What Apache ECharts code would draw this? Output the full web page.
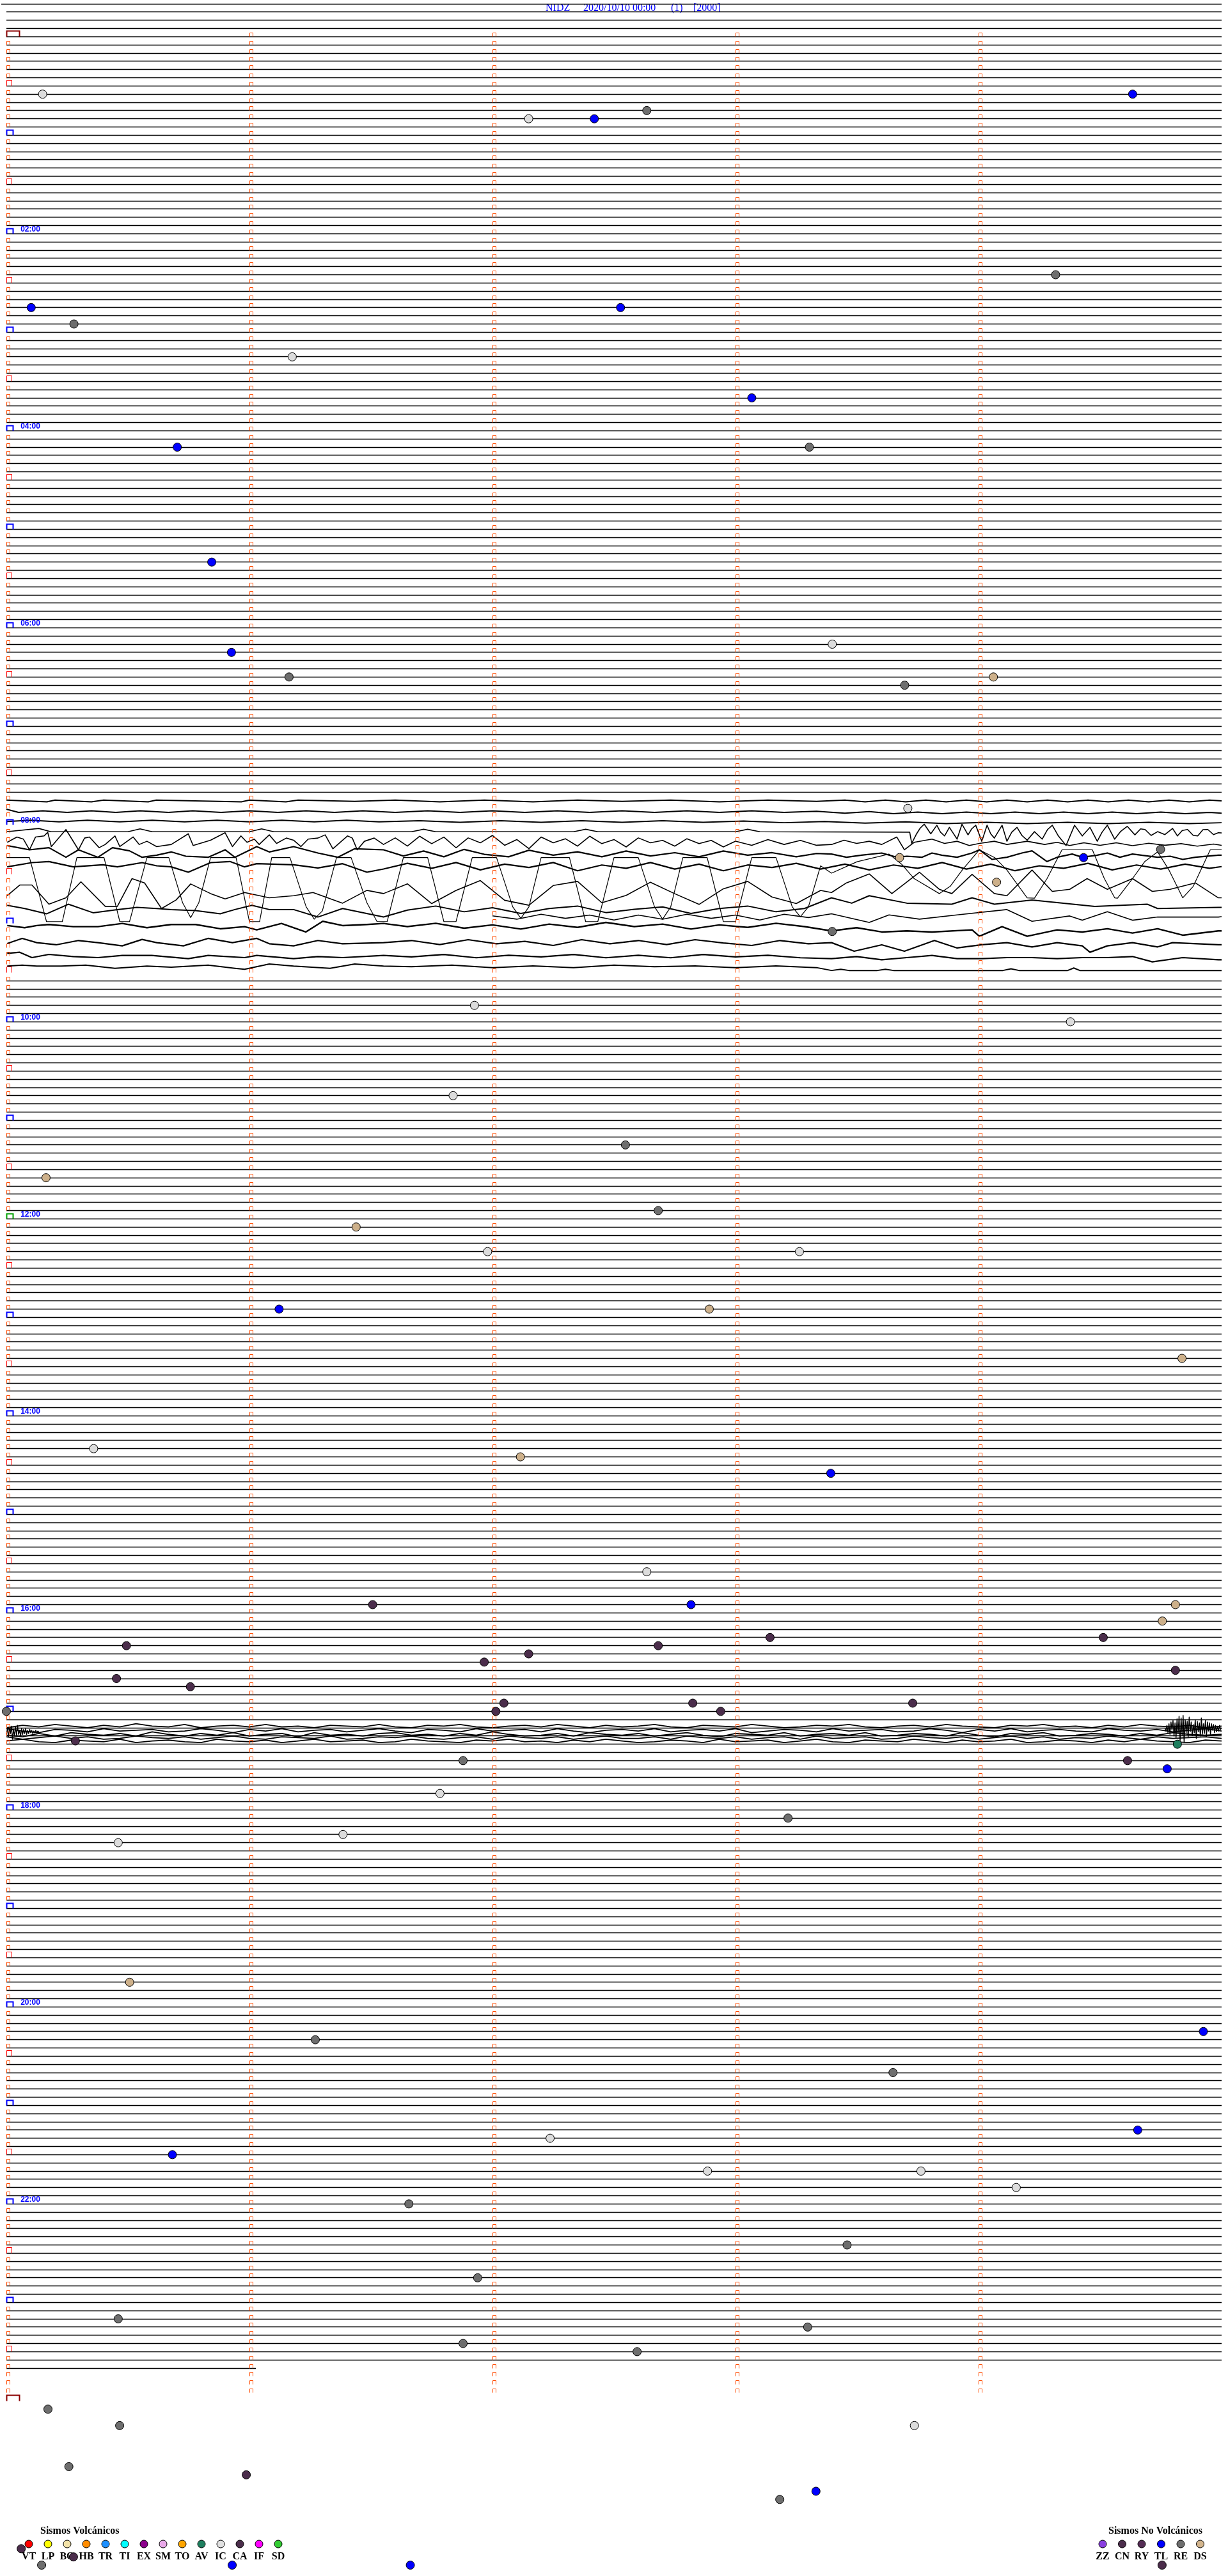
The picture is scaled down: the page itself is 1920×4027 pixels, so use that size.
<!DOCTYPE html>
<html><head><meta charset="utf-8">
<script src="https://cdn.jsdelivr.net/npm/echarts/dist/echarts.min.js"></script>
<style>html,body{margin:0;padding:0;background:#fff}#c{width:1920px;height:4027px}</style>
</head><body><div id="c"></div>
<script>
// ================= DATA =================
const titleParts = ['NIDZ', '2020/10/10 00:00', '(1)', '[2000]'];
const hourLabels = ['02:00','04:00','06:00','08:00','10:00','12:00','14:00','16:00','18:00','20:00','22:00'];
const hourLabelRows = [24,48,72,96,120,144,168,192,216,240,264];
const noonRow = 144;          // noon marker drawn in green
const lastRow = 284;          // last (partial) trace row
const lastRowEnd = 61.5;      // seconds reached on last row
const markerRows = 288;       // rows carrying minute markers (0..287)
const waveRows = [93,114];    // rows replaced by recorded waveforms
const markerSeconds = [0,60,120,180,240];

// events [minute within the 5-minute row, row index]
const evIC = [[0.149,7],[2.149,10],[1.176,39],[3.398,74],[3.709,94],[1.926,118],[4.378,120],[1.838,129],[1.98,148],[3.263,148],[0.359,172],[2.635,187],[1.784,214],[1.385,219],[0.460,220],[2.237,256],[2.885,260],[3.763,260],[4.155,262],[3.736,291]];
const evTL = [[2.419,10],[4.634,7],[0.102,33],[2.527,33],[3.067,44],[0.703,50],[0.845,64],[0.926,75],[4.432,100],[1.122,155],[3.392,175],[2.817,191],[4.776,211],[4.925,243],[4.655,255],[0.683,258],[3.331,299],[0.929,308],[1.662,308]];
const evRE = [[2.635,9],[4.317,29],[0.278,35],[3.304,50],[1.163,78],[3.696,79],[4.749,99],[3.398,109],[2.547,135],[2.682,143],[0.0,204],[1.879,210],[3.216,217],[1.271,244],[3.648,248],[1.656,264],[3.459,269],[1.939,273],[0.460,278],[3.297,279],[1.879,281],[2.595,282],[0.171,289],[0.466,291],[0.257,296],[3.182,300],[0.145,308]];
const evDS = [[4.061,78],[3.675,100],[4.074,103],[0.163,139],[1.439,145],[2.892,155],[4.837,161],[2.115,173],[4.81,191],[4.756,193],[0.507,237]];
const evCN = [[1.507,191],[0.494,196],[3.142,195],[4.513,195],[2.682,196],[2.149,197],[1.966,198],[0.453,200],[4.81,199],[0.757,201],[2.047,203],[2.824,203],[2.939,204],[3.729,203],[2.014,204],[0.284,207.6],[4.613,210],[0.987,297],[0.061,306],[0.276,307],[4.755,308]];
const evAV = [[4.818,208]];

// recorded waveforms 07:45-09:50 : [second, row position]
const traceA = [[0,93.0],[10,93.2],[12,93.0],[21,93.2],[24,93.0],[35,93.2],[37,93.0],[58,93.2],[60,93.0],[69,93.2],[72,93.0],[86,93.15],[96,93.0],[107,93.2],[118,93.0],[130,93.2],[141,93.0],[152,93.15],[164,93.0],[176,93.2],[188,93.0],[200,93.15],[207,93.0],[212,93.2],[217,93.0],[222,93.2],[227,93.0],[232,93.2],[237,93.0],[242,93.2],[247,93.0],[252,93.2],[257,93.0],[262,93.2],[267,93.0],[272,93.2],[277,93.0],[282,93.2],[287,93.0],[292,93.2],[297,93.0],[300,93.1]];
const traceB = [[0,94.1],[3,94.5],[9,94.3],[15,94.5],[21,94.3],[27,94.5],[33,94.3],[40,94.5],[46,94.3],[53,94.5],[60,94.3],[67,94.5],[74,94.3],[81,94.5],[88,94.3],[96,94.5],[104,94.3],[112,94.5],[120,94.3],[128,94.5],[136,94.3],[144,94.5],[152,94.3],[160,94.5],[168,94.3],[176,94.5],[184,94.3],[192,94.5],[200,94.35],[207,94.6],[213,94.4],[219,94.65],[225,94.45],[231,94.65],[237,94.45],[243,94.65],[249,94.45],[255,94.65],[261,94.45],[267,94.65],[273,94.45],[279,94.65],[285,94.45],[291,94.65],[297,94.5],[300,94.6]];
const traceC = [[0,95.6],[6,95.45],[13,95.65],[20,95.45],[28,95.65],[36,95.45],[44,95.65],[52,95.45],[60,95.65],[68,95.45],[76,95.65],[84,95.45],[92,95.65],[102,95.5],[112,95.7],[122,95.5],[132,95.7],[142,95.5],[152,95.7],[162,95.5],[172,95.7],[182,95.55],[192,95.75],[202,95.6],[212,95.8],[222,95.65],[232,95.85],[242,95.7],[252,95.85],[262,95.7],[272,95.85],[282,95.7],[292,95.85],[300,95.75]];
const traceD = [[0,96.85],[8,96.45],[11,96.85],[30,96.85],[33,96.5],[36,96.85],[60,96.85],[63,96.5],[66,96.85],[100,96.85],[103,96.55],[106,96.85],[140,96.85],[143,96.55],[146,96.85],[180,96.85],[183,96.55],[186,96.85],[223,96.9],[223.5,98.27],[224.7,97.1],[225.6,96.4],[226.6,95.93],[228.2,97.1],[229.7,96.06],[230.6,96.9],[231.6,97.36],[232.8,96.32],[233.7,97.0],[234.7,97.75],[235.9,95.93],[237.4,97.23],[238.3,96.5],[239.3,96.06],[240.8,98.01],[242.1,96.06],[243.0,97.1],[243.9,97.62],[245.8,96.06],[247.0,98.01],[248.2,96.9],[249.5,96.32],[250.7,97.3],[252.0,97.88],[253.8,96.84],[255.7,97.75],[257,96.6],[258.2,96.06],[259.7,97.36],[261.6,98.53],[263.7,96.06],[265.6,97.36],[267.5,96.32],[269.3,98.01],[270.5,96.9],[271.8,96.06],[273.6,97.75],[275.1,96.8],[276.7,96.19],[278.6,97.23],[280,96.5],[281.1,96.58],[282.6,97.3],[284.2,96.84],[286,97.2],[287.9,96.45],[289.1,97.36],[290.3,96.7],[291.6,96.58],[293,97.3],[294.1,97.36],[295.4,96.6],[296.6,96.58],[298,97.2],[299.2,96.97],[300,97.0]];
const traceE = [[0.2,98.14],[2.6,97.49],[4.2,97.75],[5.7,99.05],[7.2,97.49],[9.3,97.36],[10.2,96.92],[11.1,98.66],[14.7,96.58],[17.8,99.05],[19.3,97.62],[20.5,97.49],[22.9,98.79],[24.4,98.4],[26.8,97.36],[28.0,98.66],[31.3,97.49],[32.8,98.4],[34.7,98.01],[37.1,98.66],[40.7,98.4],[44.9,97.1],[46.1,98.53],[50.4,97.88],[54.0,96.97],[55.8,98.66],[57.9,97.36],[59.4,98.14],[61.2,97.75],[62.4,98.4],[64.9,97.23],[66.7,98.27],[69.1,97.62],[70.9,97.88],[72.7,98.66],[74.5,97.75],[76.9,97.62],[78.7,97.23],[80.6,98.92],[84.2,97.36],[85.4,97.62],[86.6,99.05],[88.4,98.01],[90.8,97.62],[93.1,98.4],[96,97.6],[99,98.6],[102,97.4],[105,98.3],[108,97.5],[111,98.8],[114,97.6],[117,98.2],[120,97.3],[123,98.5],[126,97.8],[129,98.9],[132,97.5],[135,98.2],[138,97.7],[141,98.6],[144,97.4],[147,98.3],[150,97.8],[153,98.7],[156,97.6],[159,98.2],[162,97.9],[165,98.6],[168,97.7],[171,98.3],[174,97.9],[177,98.7],[180,98.0],[184,98.5],[188,97.8],[192,98.4],[196,97.9],[200,98.5],[203.7,98.4],[206.8,97.88],[209.9,98.27],[213,98.01],[216.1,98.4],[219.8,97.49],[221.7,99.05],[224.1,98.14],[228.5,97.75],[231.6,98.27],[234.7,98.01],[237.7,98.53],[240.2,98.27],[243.9,98.01],[247,98.4],[252,98.01],[256.3,98.4],[259.4,98.14],[262.5,98.53],[266,98.2],[270,98.5],[274,98.2],[278,98.55],[282,98.25],[286,98.5],[290,98.3],[294,98.6],[298,98.35],[300,98.5]];
const traceF = [[0.2,98.53],[5.7,99.05],[10.5,98.79],[14.7,99.96],[17.8,99.05],[22.6,99.96],[26.2,98.79],[30.4,99.18],[33.5,99.96],[37.1,99.7],[40.7,99.31],[44.3,99.83],[49.8,99.96],[54,99.05],[56.4,99.96],[61.8,98.66],[64.9,99.31],[70.9,98.66],[76.9,99.44],[81.8,99.96],[86,98.92],[93.1,99.05],[98,99.8],[103,99.2],[108,99.9],[113,99.0],[118,99.6],[124,99.9],[129,99.1],[135,99.7],[141,99.3],[147,99.9],[153,99.2],[159,99.8],[165,99.4],[171,99.9],[177,99.2],[183,99.7],[189,99.4],[195,99.9],[200,99.5],[203.7,99.57],[207.4,99.96],[211.1,99.7],[216.1,99.44],[219.8,99.96],[222.3,99.83],[226,99.96],[228.5,99.44],[230.9,99.7],[234.7,99.96],[238.4,99.44],[240.2,99.05],[243.3,100.22],[247,99.96],[250.7,99.44],[253.2,99.18],[256.9,100.48],[259.4,99.96],[263.1,99.57],[265.6,99.96],[269.3,99.7],[271.8,99.44],[274.9,99.96],[278,99.57],[284.2,99.96],[287.3,99.83],[290.4,100.22],[293.5,99.96],[299.2,99.7],[300,99.7]];
const traceG = [[0,100.0],[5.7,100.0],[9.9,107.8],[13.8,107.8],[17.4,100.0],[24.1,100.0],[28.0,107.8],[30.4,107.8],[34.7,100.0],[40.1,100.0],[43.5,105.5],[45.5,107.3],[47.5,105.5],[50.4,100.0],[56.7,100.0],[60,107.8],[62.5,107.8],[65.5,100.0],[70.0,100.0],[74,106],[76,107.5],[78,106.5],[81.5,100.0],[85.1,100.0],[89,105.5],[91.5,107.8],[94,107.8],[98,100.0],[104,100.0],[108,107.8],[111,107.8],[115,100.0],[121,100.0],[125,106],[127,107.4],[129,106],[132,100.0],[139,100.0],[143,107.8],[146,107.8],[150,100.0],[156,100.0],[160,106],[162,107.5],[164,106],[167,100.0],[173,100.0],[177,107.8],[180,107.8],[184,100.0],[190,100.0],[194,106],[196,107.2],[198,106],[201,101],[203.7,101.9],[210,100.5],[217.9,99.57],[221,100.8],[224.1,102.56],[230.3,104.38],[233,103.5],[236,101.5],[240.2,99.05],[244,100],[247,101.52],[252,104.9],[253.8,104.95],[256.9,102.56],[260.6,99.05],[268.1,99.05],[271,102.5],[273.6,104.9],[274.3,104.95],[278,102.56],[281,100.5],[284.2,99.3],[287,101.5],[290.4,104.9],[293,103.5],[297.2,99.05],[300,99.05]];
const traceH = [[0.2,101.13],[6.3,100.61],[10.5,100.48],[16.5,101.13],[23.8,100.87],[27.4,101.13],[33.5,100.61],[37.1,101.0],[40.7,101.13],[44.9,101.78],[50.4,100.61],[55.2,100.48],[58.8,101.13],[61.8,100.74],[70.9,100.87],[76.9,101.26],[83,100.74],[89,101.78],[93.1,101.39],[99,100.7],[105,101.3],[111,100.6],[117,101.5],[123,100.8],[129,101.2],[135,100.6],[141,101.6],[147,100.9],[153,101.3],[159,100.6],[165,101.4],[171,100.8],[177,101.6],[183,100.9],[189,101.2],[195,100.7],[201,101.4],[207,100.8],[213,101.5],[219,100.9],[225,101.3],[231,100.6],[237,101.4],[243,100.8],[249,101.6],[255,101.0],[261,101.3],[267,100.7],[273,101.5],[279,100.9],[285,101.4],[291,100.8],[297,101.3],[300,101.1]];
const traceI = [[0.2,104.64],[3.3,103.34],[6.3,103.34],[10.5,105.68],[14.7,104.9],[18.4,102.95],[24.4,105.94],[27.4,105.94],[31,102.56],[34.1,103.08],[38.3,106.2],[41.9,105.16],[45.5,103.21],[50.4,104.38],[54,105.03],[58.8,104.25],[64.9,104.9],[70.9,104.64],[75.7,104.25],[83,105.55],[89,103.99],[93.1,104.38],[99,103.2],[105,105.6],[111,104.0],[117,102.8],[123,105.2],[129,105.8],[135,103.4],[141,102.9],[147,105.5],[153,104.6],[159,103.0],[165,104.4],[171,105.7],[177,103.8],[183,102.9],[189,104.8],[195,105.6],[201,104.0],[203.7,104.25],[207.4,103.08],[213,101.99],[218.6,104.38],[225.4,101.78],[230.3,103.86],[233.4,104.38],[238.4,102.04],[243.9,104.38],[247,104.64],[253.2,101.52],[258.2,104.12],[262.5,103.86],[266.8,102.56],[271.8,103.86],[278,102.56],[282.9,104.12],[287.3,103.86],[293.5,103.08],[299.2,104.9],[300,104.9]];
const traceJ = [[0.2,105.81],[4.5,106.2],[9.9,106.85],[15.3,105.68],[21.4,106.72],[27.4,106.33],[32.2,106.07],[37.1,106.2],[40.7,106.33],[46.7,106.46],[52.8,106.85],[56.4,106.33],[60.6,105.81],[64.9,106.33],[70.9,106.33],[76.9,107.24],[83,106.2],[93.1,107.24],[99,106.4],[106,105.9],[113,106.6],[120,106.1],[127,106.8],[134,106.2],[141,105.9],[148,106.7],[155,106.3],[162,106.0],[169,106.8],[176,106.2],[183,105.9],[190,106.6],[197,106.2],[203.7,104.9],[208.7,105.55],[213,104.64],[222.3,105.55],[233.4,105.68],[238.4,104.9],[243.9,105.68],[253.2,105.16],[268.7,105.94],[281.7,105.68],[284.2,106.2],[299.2,106.07],[300,106.07]];
const traceJ2 = [[120,107.1],[126,107.5],[132,106.9],[138,107.4],[144,107.0],[150,107.6],[156,107.0],[162,107.5],[168,106.9],[174,107.4],[180,107.0],[186,107.6],[192,106.9],[198,107.3],[203.7,106.85],[213,107.89],[217.9,106.98],[225.4,107.5],[234.7,106.98],[247,106.33],[253.2,107.76],[262.5,107.11],[265.6,107.63],[271.8,106.59],[278,107.63],[284.2,107.24],[299.2,107.24],[300,107.2]];
const traceK = [[0.2,108.28],[4.5,108.54],[7.5,108.28],[10.5,108.15],[16.5,108.41],[22.6,108.41],[28.6,108.02],[34.7,108.54],[40.7,108.15],[46.7,108.15],[52.8,108.67],[58.8,108.41],[61.8,108.8],[67.9,108.02],[73.9,109.06],[78.1,107.76],[83,108.28],[89,108.15],[93.1,108.02],[99,108.4],[106,108.0],[113,108.6],[120,108.2],[127,108.7],[134,108.1],[141,108.5],[148,107.9],[155,108.4],[162,108.1],[169,108.7],[176,108.2],[183,108.5],[190,108.0],[197,108.4],[203.7,108.93],[209.9,108.54],[216.1,109.06],[222.3,108.93],[228.5,109.06],[238.4,108.8],[240.2,109.58],[245.8,108.41],[252,109.58],[259.4,108.8],[265.6,109.06],[271.8,108.67],[278,109.19],[284.2,108.67],[290.4,109.45],[299.2,108.93],[300,108.93]];
const traceL = [[0.2,110.47],[3.9,109.84],[7.5,110.36],[12.3,110.62],[17.8,110.1],[22.6,110.36],[28.6,110.75],[33.5,109.97],[37.1,110.36],[43.7,110.75],[49.8,109.84],[55.8,110.36],[61.8,109.84],[64.9,110.49],[70.9,110.75],[76.9,110.1],[83,110.49],[93.1,110.36],[100,110.1],[107,110.6],[114,110.0],[121,110.5],[128,110.2],[135,110.7],[142,110.0],[149,110.5],[156,110.1],[163,110.6],[170,110.0],[177,110.4],[184,110.7],[191,110.1],[198,110.5],[203.7,110.36],[209.3,111.4],[216.1,110.62],[221.7,111.4],[229.1,110.1],[234.7,111.01],[240.8,110.62],[247,110.36],[253.2,110.88],[259.4,110.36],[265.6,110.75],[267.5,111.53],[271.8,110.75],[278,110.36],[284.2,110.88],[287.9,110.36],[299.2,110.62],[300,110.62]];
const traceM = [[0.2,111.66],[3.3,111.53],[6.3,112.18],[10.5,111.79],[16.5,112.05],[22.6,112.18],[28.6,111.92],[35.9,111.92],[44.9,112.31],[49.8,111.92],[58.8,112.18],[61.8,111.92],[70.9,112.31],[76.9,112.05],[83,112.18],[93.1,111.92],[100,112.1],[108,111.8],[116,112.2],[124,111.9],[132,112.1],[140,111.8],[148,112.2],[156,111.9],[164,112.2],[172,111.8],[180,112.1],[188,111.9],[196,112.2],[203.7,112.31],[209.9,112.05],[216.1,112.44],[222.3,112.18],[228.5,111.92],[234.7,112.31],[240.8,112.31],[247,112.18],[253.2,112.18],[259.4,112.31],[265.6,112.18],[271.8,112.18],[278,112.05],[282.9,112.7],[290.4,112.18],[299.2,112.44],[300,112.44]];
const traceN = [[0.2,113.22],[3.9,113.09],[7.5,113.22],[13.5,113.22],[19.6,113.09],[26.8,113.48],[34.7,113.22],[40.7,113.35],[49.8,113.09],[56.4,113.48],[58.8,113.61],[64.9,112.96],[70.9,113.22],[79.9,113.48],[86,112.96],[93.1,113.22],[100,113.3],[110,113.1],[120,113.4],[130,113.2],[140,113.4],[150,113.1],[160,113.3],[170,113.2],[180,113.4],[190,113.2],[200,113.4],[203.7,113.75],[206,113.6],[208,113.75],[215,113.75],[217,113.6],[219,113.75],[246,113.75],[248,113.55],[250,113.75],[262,113.75],[263.5,113.45],[265,113.75],[300,113.75]];

// 17:10 burst : amplitudes (tenths of a row) every burstStep seconds
const burstStep = 4;
const burstBase = [205.8, 206.3, 206.8, 207.2, 207.6];
const burst1 = [2,-1,1,-2,0,2,-1,1,-3,0,1,-2,2,0,-1,1,-2,1,0,2,-1,0,1,-2,1,2,-1,0,-2,1,2,0,-1,1,-2,0,2,-1,1,0,-2,1,2,-1,0,1,-2,0,2,1,-1,0,-2,1,2,0,-1,1,-2,0,1,2,-1,0,-2,1,0,2,-1,1,-2,0,1,-1,2,0];
const burst2 = [-2,1,3,-1,0,2,-2,1,0,-1,2,1,-2,0,3,-1,1,-2,2,0,-1,2,0,-2,1,3,-1,0,2,-2,1,0,-1,2,-2,1,3,0,-1,1,-2,2,0,-1,1,-2,3,1,-1,0,2,-2,1,0,-1,2,1,-2,0,3,-1,1,-2,2,0,-1,1,2,-2,0,1,-1,2,0,-2,1];
const burst3 = [1,3,-1,2,-2,0,1,-1,2,-3,0,2,-1,1,-2,2,0,-1,3,-2,1,0,2,-1,-2,1,0,2,-1,1,-3,0,2,1,-1,2,-2,0,1,-1,2,0,-2,1,3,-1,0,1,-2,2,0,-1,1,-2,2,1,-1,0,2,-2,1,3,-1,0,-2,2,1,-1,0,2,-1,1,-2,0,1,0];
const burst4 = [-1,2,0,-2,1,-1,2,1,-2,0,1,-1,2,0,-2,1,2,-1,0,1,-2,2,1,-1,0,-2,1,2,0,-1,2,-2,0,1,-1,2,0,-2,1,1,-1,2,-2,0,1,-1,2,0,-1,2,-2,1,0,-1,2,1,-2,0,1,-1,2,0,-2,1,-1,2,0,1,-2,0,2,-1,1,0,-1,1];
const burst5 = [0,-2,1,2,-1,0,1,-2,2,0,-1,1,2,-2,0,1,-1,2,0,-2,1,0,-1,2,1,-2,0,1,2,-1,0,-2,1,0,2,-1,1,-2,0,2,1,-1,0,2,-2,1,0,-1,2,0,-2,1,2,-1,0,1,-2,0,2,-1,1,0,-2,2,1,-1,0,2,-1,1,-2,0,1,2,-1,0];
const blobStep = 0.25;
const blobLeft = {row: 206.5, start: 0, amp: [3,-4,6,-5,2,-7,9,-3,5,-6,4,-8,3,-2,5,-4,3,-3,2,-4,3,-2,2,-3,1,-2,2,-1,1,-2,1,-1,0]};
const blobRight = {row: 206.0, start: 286, amp: [0,4,-3,6,-5,8,-7,3,-9,10,-6,12,-11,7,-14,16,-12,9,-15,18,-10,6,-8,11,-13,5,-7,9,-4,6,-10,13,-8,5,-6,10,-12,8,-5,7,-9,11,-7,4,-6,8,-5,3,-4,6,-3,5,-2,4,-3,2,0]};

const volcCodes = ['VT','LP','BQ','HB','TR','TI','EX','SM','TO','AV','IC','CA','IF','SD'];
const volcColors = ['#FF0000','#FFFF00','#F2E2A8','#FF8C00','#1E90FF','#00FFFF','#8B008B','#E8A8E8','#FFA500','#1F7F5F','#E0E0E0','#4B2D4B','#FF00FF','#33CC33'];
const nvCodes = ['ZZ','CN','RY','TL','RE','DS'];
const nvColors = ['#8A3FE0','#4B2D4B','#552D55','#0000FF','#6E6E6E','#D2B48C'];

// ================= BUILD =================
const flatLines = [];
for (let r = -4; r <= lastRow; r++) {
  if (r >= waveRows[0] && r <= waveRows[1]) continue;
  flatLines.push([r === -4 ? -1.3 : 0, r === lastRow ? lastRowEnd : 300, r]);
}
const waveTraces = [
  {pts: traceA, w: 2}, {pts: traceB, w: 2}, {pts: traceC, w: 2}, {pts: traceD, w: 1.6},
  {pts: traceE, w: 1.6}, {pts: traceF, w: 2.2}, {pts: traceG, w: 1.2}, {pts: traceH, w: 2.2},
  {pts: traceI, w: 1.6}, {pts: traceJ, w: 2}, {pts: traceJ2, w: 1.6}, {pts: traceK, w: 2.4},
  {pts: traceL, w: 2.2}, {pts: traceM, w: 2.2}, {pts: traceN, w: 2}
];
[burst1, burst2, burst3, burst4, burst5].forEach((a, k) => {
  waveTraces.push({pts: a.map((v, i) => [i * burstStep, burstBase[k] + v / 10]), w: 1.8});
});
[blobLeft, blobRight].forEach(b => {
  waveTraces.push({pts: b.amp.map((v, i) => [b.start + i * blobStep, b.row + v / 10]), w: 1.4});
});

const markers = [];
for (let r = 0; r < markerRows; r++) {
  markerSeconds.forEach((s, c) => {
    let k = 0;
    if (c === 0) {
      if (r === 0) k = 3; else if (r === noonRow) k = 4; else if (r % 12 === 0) k = 2; else if (r % 12 === 6) k = 1;
    }
    markers.push([s, r, k]);
  });
}
markers.push([0, markerRows, 3]);
const hourData = hourLabelRows.map(r => [3.5, r]);
const toSec = arr => arr.map(e => [e[0] * 60, e[1]]);

function renderFlat(params, api) {
  const a = api.coord([api.value(0), api.value(2)]);
  const b = api.coord([api.value(1), api.value(2)]);
  const y = Math.floor(a[1]) + 0.5;
  return {type: 'line', silent: true, shape: {x1: Math.round(a[0]), y1: y, x2: Math.round(b[0]), y2: y},
    style: {stroke: '#000', lineWidth: 1.5}};
}
function renderWave(params, api) {
  const t = waveTraces[params.dataIndex];
  return {type: 'polyline', silent: true, shape: {points: t.pts.map(p => api.coord(p))},
    style: {stroke: '#000', lineWidth: t.w, fill: null, lineJoin: 'round'}};
}
function renderMarker(params, api) {
  const p = api.coord([api.value(0), api.value(1)]);
  const k = api.value(2);
  const x = Math.round(p[0]) + 0.5, y = Math.floor(p[1]) + 0.5;
  let w = 5, h = 6, col = '#FF4A00', lw = 1;
  if (k === 1) { w = 8; h = 9; col = '#FF0000'; }
  if (k === 2) { w = 10; h = 8; col = '#0000FF'; lw = 2; }
  if (k === 4) { w = 10; h = 8; col = '#00A000'; lw = 2; }
  if (k === 3) { w = 20; h = 9; col = '#8B0000'; lw = 2; }
  return {type: 'polyline', silent: true,
    shape: {points: [[x, y], [x, y - h], [x + w, y - h], [x + w, y]]},
    style: {stroke: col, lineWidth: lw, fill: null}};
}
function renderHour(params, api) {
  const p = api.coord([api.value(0), api.value(1)]);
  return {type: 'text', silent: true,
    style: {text: hourLabels[params.dataIndex], x: p[0], y: Math.floor(p[1]) - 0.5, fill: '#0000FF',
      font: 'bold 12px "Liberation Sans", Arial, sans-serif', align: 'left', verticalAlign: 'bottom'}};
}
function evSeries(data, color) {
  return {type: 'scatter', data: toSec(data), symbol: 'circle', symbolSize: 13, clip: false,
    itemStyle: {color: color, borderColor: '#000', borderWidth: 1, opacity: 1}, z: 5, silent: true};
}

const graphics = [];
const serif = '"Liberation Serif", "Times New Roman", serif';
const titleX = [853, 912, 1049, 1084];
titleParts.forEach((t, i) => graphics.push({type: 'text', left: titleX[i], top: 5,
  style: {text: t, fill: '#0000FF', font: '16px ' + serif}}));
graphics.push({type: 'text', left: 63, top: 3949, style: {text: 'Sismos Volcánicos', fill: '#000', font: 'bold 16px ' + serif}});
graphics.push({type: 'text', left: 1733, top: 3949, style: {text: 'Sismos No Volcánicos', fill: '#000', font: 'bold 16px ' + serif}});
volcCodes.forEach((c, i) => {
  const cx = 45 + 30 * i;
  graphics.push({type: 'circle', shape: {cx: cx, cy: 3977, r: 6}, style: {fill: volcColors[i], stroke: '#000', lineWidth: 1}});
  graphics.push({type: 'text', x: cx, y: 3997, style: {text: c, fill: '#000', font: 'bold 16px ' + serif, align: 'center', verticalAlign: 'middle'}});
});
nvCodes.forEach((c, i) => {
  const cx = 1724 + 30.5 * i;
  graphics.push({type: 'circle', shape: {cx: cx, cy: 3977, r: 6}, style: {fill: nvColors[i], stroke: '#000', lineWidth: 1}});
  graphics.push({type: 'text', x: cx, y: 3997, style: {text: c, fill: '#000', font: 'bold 16px ' + serif, align: 'center', verticalAlign: 'middle'}});
});

const chart = echarts.init(document.getElementById('c'), null, {renderer: 'canvas'});
chart.setOption({
  animation: false,
  backgroundColor: '#fff',
  grid: {left: 10 - 1900 / 300, top: 6, width: 1900 * 301 / 300, height: 313 * 154 / 12, containLabel: false},
  xAxis: {type: 'value', min: -1, max: 300, show: false},
  yAxis: {type: 'value', min: -4, max: 309, inverse: true, show: false},
  graphic: graphics,
  series: [
    {type: 'custom', renderItem: renderFlat, data: flatLines, encode: {x: [0, 1], y: 2}, z: 1, silent: true, clip: false},
    {type: 'custom', renderItem: renderWave, data: waveTraces.map((t, i) => [0, i]), z: 2, silent: true, clip: false},
    {type: 'custom', renderItem: renderMarker, data: markers, z: 3, silent: true, clip: false},
    {type: 'custom', renderItem: renderHour, data: hourData, z: 4, silent: true, clip: false},
    evSeries(evIC, '#DCDCDC'),
    evSeries(evTL, '#0000FF'),
    evSeries(evRE, '#6E6E6E'),
    evSeries(evDS, '#CDB08A'),
    evSeries(evCN, '#4B2D4B'),
    evSeries(evAV, '#1F7F5F')
  ]
});
</script></body></html>
